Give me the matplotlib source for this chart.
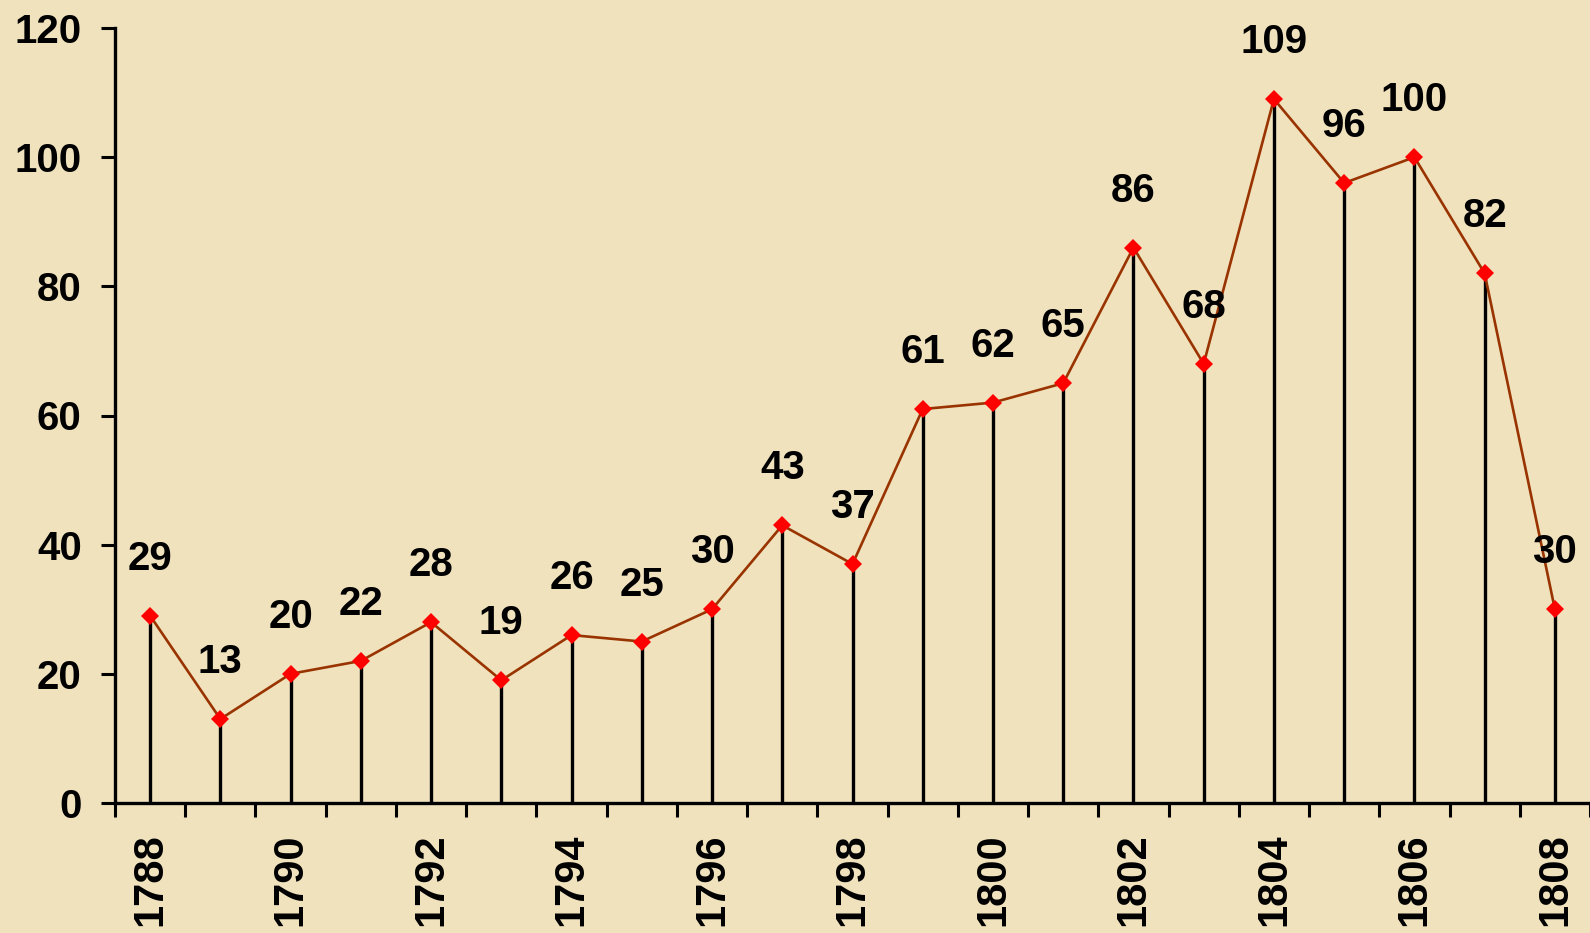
import matplotlib.pyplot as plt
import numpy as np

years = list(range(1788, 1809))
values = [29, 13, 20, 22, 28, 19, 26, 25, 30, 43, 37, 61, 62, 65, 86, 68, 109, 96, 100, 82, 30]
tick_years = [y for y in years if y % 2 == 0]

bg = '#F0E2BD'
plt.rcParams['font.family'] = ['Liberation Sans', 'DejaVu Sans']
plt.rcParams['font.weight'] = 'bold'

fig = plt.figure(figsize=(15.9, 9.33), dpi=100, facecolor=bg)
ax = fig.add_axes([115/1590, 130/933, 1 - 115/1590, (803 - 28)/933])
ax.set_facecolor(bg)

x = np.arange(len(years))

# stems
ax.vlines(x, 0, values, color='black', linewidth=2.4, zorder=2)
# line + markers
ax.plot(x, values, color='#993300', linewidth=1.9, zorder=3)
ax.plot(x, values, linestyle='none', marker='D', markersize=9.5,
        markerfacecolor='red', markeredgewidth=0, zorder=4)

for xi, v in zip(x, values):
    ax.annotate(str(v), (xi, v), xytext=(0, 41), textcoords='offset points',
                ha='center', va='center', fontsize=29, fontweight='bold')

ax.set_xlim(-0.5, len(years) - 0.5)
ax.set_ylim(0, 120)
ax.set_yticks(range(0, 121, 20))
ax.tick_params(axis='y', length=10, width=2.2, pad=14, labelsize=29)

ax.set_xticks([years.index(y) for y in tick_years])
ax.set_xticklabels([str(y) for y in tick_years], rotation=90, fontsize=30,
                   fontweight='bold', va='top')
ax.set_xticks(np.arange(-0.5, len(years)), minor=True)
ax.tick_params(axis='x', which='major', length=0, pad=22)
ax.tick_params(axis='x', which='minor', length=10, width=2.2)

for s in ['top', 'right']:
    ax.spines[s].set_visible(False)
for s in ['left', 'bottom']:
    ax.spines[s].set_linewidth(2.4)

fig.savefig('out.png', dpi=100, facecolor=bg)
